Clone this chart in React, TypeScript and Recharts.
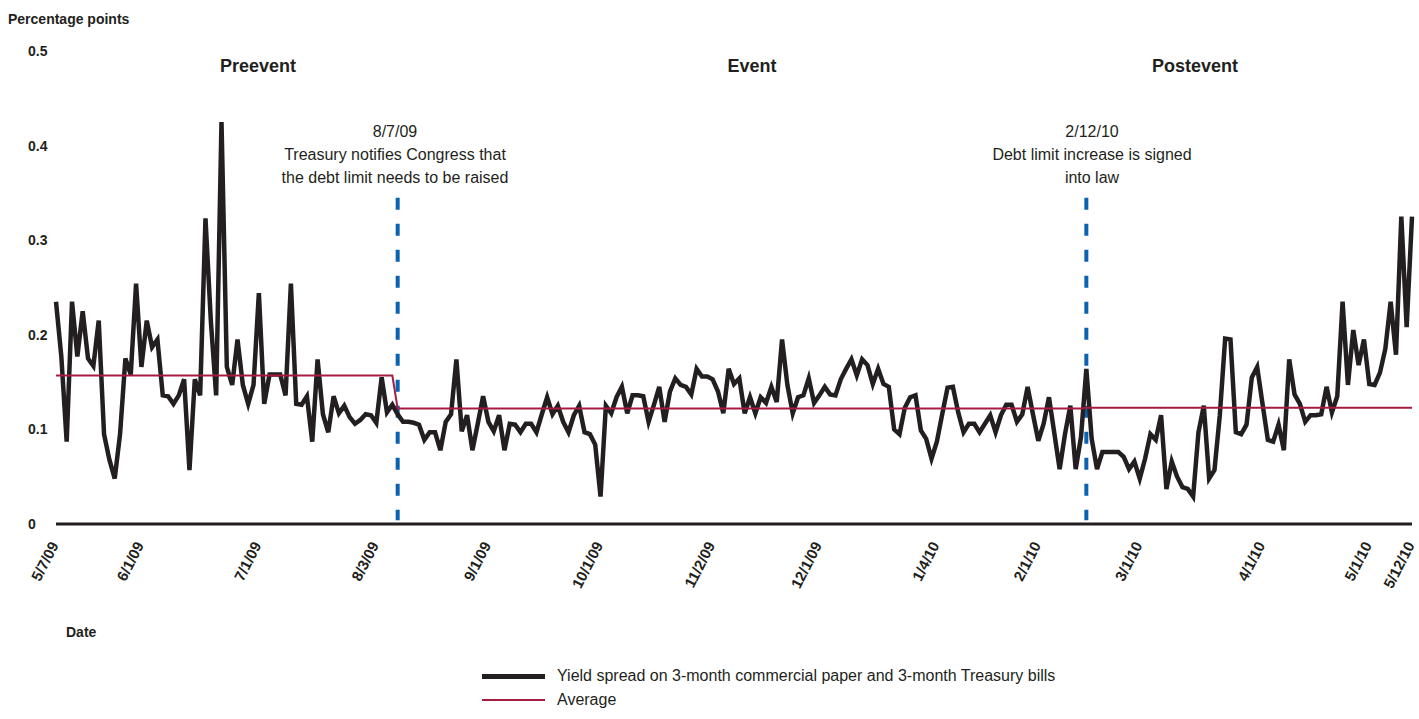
import React from "react";
import { ComposedChart, Line, XAxis, YAxis, ReferenceLine } from "recharts";

// Yield spread, percentage points, one value per business day from 5/7/09 to 5/12/10
const spread = [
  0.235, 0.177, 0.087, 0.235, 0.177, 0.225, 0.175, 0.167, 0.215, 0.095,
  0.068, 0.048, 0.095, 0.175, 0.158, 0.254, 0.166, 0.215, 0.187, 0.195,
  0.136, 0.135, 0.127, 0.136, 0.153, 0.057, 0.153, 0.136, 0.323, 0.215,
  0.136, 0.425, 0.166, 0.147, 0.195, 0.147, 0.127, 0.147, 0.244, 0.127,
  0.158, 0.158, 0.158, 0.136, 0.254, 0.127, 0.126, 0.135, 0.087, 0.174,
  0.116, 0.097, 0.135, 0.117, 0.125, 0.113, 0.106, 0.110, 0.116, 0.115,
  0.107, 0.155, 0.118, 0.126, 0.116, 0.108, 0.108, 0.107, 0.105, 0.089,
  0.097, 0.097, 0.078, 0.108, 0.116, 0.174, 0.098, 0.115, 0.078, 0.106,
  0.135, 0.108, 0.098, 0.115, 0.078, 0.106, 0.105, 0.097, 0.106, 0.106,
  0.097, 0.116, 0.134, 0.116, 0.125, 0.108, 0.097, 0.115, 0.125, 0.097,
  0.095, 0.084, 0.029, 0.125, 0.117, 0.134, 0.145, 0.117, 0.136, 0.136,
  0.135, 0.108, 0.126, 0.145, 0.108, 0.140, 0.154, 0.147, 0.145, 0.137,
  0.164, 0.156, 0.156, 0.153, 0.140, 0.117, 0.164, 0.148, 0.154, 0.117,
  0.134, 0.117, 0.134, 0.128, 0.145, 0.129, 0.195, 0.147, 0.117, 0.134,
  0.136, 0.154, 0.128, 0.136, 0.145, 0.137, 0.136, 0.153, 0.164, 0.174,
  0.157, 0.174, 0.168, 0.148, 0.164, 0.148, 0.145, 0.100, 0.095, 0.123,
  0.134, 0.136, 0.099, 0.090, 0.069, 0.087, 0.116, 0.144, 0.145, 0.118,
  0.097, 0.106, 0.106, 0.097, 0.106, 0.115, 0.097, 0.115, 0.126, 0.126,
  0.108, 0.116, 0.145, 0.116, 0.088, 0.106, 0.134, 0.096, 0.058, 0.095,
  0.125, 0.058, 0.092, 0.164, 0.090, 0.058, 0.076, 0.076, 0.076, 0.076,
  0.071, 0.058, 0.066, 0.048, 0.069, 0.095, 0.089, 0.115, 0.037, 0.066,
  0.050, 0.039, 0.037, 0.029, 0.097, 0.125, 0.048, 0.057, 0.115, 0.196,
  0.195, 0.097, 0.095, 0.105, 0.155, 0.166, 0.127, 0.089, 0.087, 0.105,
  0.078, 0.174, 0.137, 0.127, 0.108, 0.115, 0.115, 0.116, 0.145, 0.118,
  0.135, 0.235, 0.147, 0.205, 0.168, 0.195, 0.148, 0.147, 0.160, 0.185,
  0.235, 0.179, 0.325, 0.208, 0.325,
];

const firstDate = "5/7/09";
const holidays = [
  "5/25/09", "7/3/09", "9/7/09", "10/12/09", "11/26/09",
  "12/25/09", "1/1/10", "1/18/10", "2/15/10", "4/2/10",
];

const tickLabels = [
  "5/7/09", "6/1/09", "7/1/09", "8/3/09", "9/1/09", "10/1/09", "11/2/09",
  "12/1/09", "1/4/10", "2/1/10", "3/1/10", "4/1/10", "5/1/10", "5/12/10",
];

const yTicks = [0, 0.1, 0.2, 0.3, 0.4, 0.5];

// period start dates and their average spread
const periodStarts = ["5/7/09", "8/7/09", "2/12/10"];
const periodNames = ["Preevent", "Event", "Postevent"];
const periodAverages = [0.157, 0.122, 0.123];

const eventDates = ["8/7/09", "2/12/10"];
const eventNotes = [
  ["8/7/09", "Treasury notifies Congress that", "the debt limit needs to be raised"],
  ["2/12/10", "Debt limit increase is signed", "into law"],
];

const FONT = "'Liberation Sans', Arial, Helvetica, sans-serif";
const INK = "#231f20";
const RED = "#a51c40";
const BLUE = "#0b62b1";

const DAY = 86400000;
const toTime = (s: string) => {
  const [m, d, y] = s.split("/").map(Number);
  return Date.UTC(2000 + y, m - 1, d);
};
const toLabel = (t: number) => {
  const d = new Date(t);
  return `${d.getUTCMonth() + 1}/${d.getUTCDate()}/${String(d.getUTCFullYear()).slice(2)}`;
};

// business days, skipping weekends and holidays
const days: { t: number; label: string }[] = [];
{
  const off = new Set(holidays);
  let t = toTime(firstDate);
  while (days.length < spread.length) {
    const wd = new Date(t).getUTCDay();
    const label = toLabel(t);
    if (wd !== 0 && wd !== 6 && !off.has(label)) days.push({ t, label });
    t += DAY;
  }
}

const indexOf = (s: string) => {
  const t = toTime(s);
  let idx = 0;
  days.forEach((d, i) => {
    if (d.t <= t) idx = i;
  });
  return idx;
};

const periodIdx = periodStarts.map(indexOf);
const data = days.map((d, i) => {
  let p = 0;
  periodIdx.forEach((s, k) => {
    if (i >= s) p = k;
  });
  return { idx: i, date: d.label, spread: spread[i], avg: periodAverages[p] };
});

const tickIdx = tickLabels.map(indexOf);
const tickName: Record<number, string> = {};
tickIdx.forEach((v, i) => (tickName[v] = tickLabels[i]));

const DateTick = (props: any) => {
  const { x, y, payload } = props;
  const ax = x + 3;
  const ay = y + 13;
  return (
    <text
      x={ax}
      y={ay}
      transform={`rotate(-63 ${ax} ${ay})`}
      textAnchor="end"
      fontFamily={FONT}
      fontWeight="bold"
      fontSize={15}
      fill={INK}
    >
      {tickName[payload.value]}
    </text>
  );
};

const ValueTick = (props: any) => {
  const { y, payload } = props;
  return (
    <text x={28} y={y + 5} textAnchor="start" fontFamily={FONT} fontWeight="bold" fontSize={14} fill={INK}>
      {String(payload.value)}
    </text>
  );
};

const periodLabelX = [258, 752, 1195];
const noteX = [395, 1092];

export default function App() {
  return (
    <div style={{ position: "absolute", left: 0, top: 0, width: 1419, height: 719, background: "#fff", fontFamily: FONT, color: INK }}>
      <ComposedChart
        width={1419}
        height={719}
        data={data}
        margin={{ top: 51, right: 7, left: 0, bottom: 115 }}
      >
        <XAxis
          dataKey="idx"
          type="number"
          domain={[0, spread.length - 1]}
          ticks={tickIdx}
          interval={0}
          tick={<DateTick />}
          tickLine={false}
          axisLine={{ stroke: INK, strokeWidth: 3 }}
          height={80}
        />
        <YAxis
          domain={[0, 0.5]}
          ticks={yTicks}
          interval={0}
          tick={<ValueTick />}
          tickLine={false}
          axisLine={false}
          width={56}
        />
        {eventDates.map((d) => (
          <ReferenceLine
            key={d}
            segment={[
              { x: indexOf(d), y: 0.345 },
              { x: indexOf(d), y: 0.004 },
            ]}
            stroke={BLUE}
            strokeWidth={4}
            strokeDasharray="12 14"
          />
        ))}
        <Line
          type="linear"
          dataKey="spread"
          stroke={INK}
          strokeWidth={4.5}
          dot={false}
          isAnimationActive={false}
        />
        <Line
          type="linear"
          dataKey="avg"
          stroke={RED}
          strokeWidth={2}
          dot={false}
          isAnimationActive={false}
        />
      </ComposedChart>

      <div style={{ position: "absolute", left: 8, top: 11, fontSize: 14, fontWeight: "bold" }}>Percentage points</div>

      {periodNames.map((n, i) => (
        <div
          key={n}
          style={{ position: "absolute", left: periodLabelX[i] - 100, width: 200, top: 56, textAlign: "center", fontSize: 18, fontWeight: "bold" }}
        >
          {n}
        </div>
      ))}

      {eventNotes.map((lines, i) => (
        <div
          key={i}
          style={{ position: "absolute", left: noteX[i] - 160, width: 320, top: 120, textAlign: "center", fontSize: 16, lineHeight: "23px" }}
        >
          {lines.map((l) => (
            <div key={l}>{l}</div>
          ))}
        </div>
      ))}

      <div style={{ position: "absolute", left: 66, top: 624, fontSize: 14, fontWeight: "bold" }}>Date</div>

      <div style={{ position: "absolute", left: 482, top: 667, display: "flex", alignItems: "center" }}>
        <div style={{ width: 63, height: 5, background: INK, marginRight: 12 }} />
        <span style={{ fontSize: 16 }}>Yield spread on 3-month commercial paper and 3-month Treasury bills</span>
      </div>
      <div style={{ position: "absolute", left: 482, top: 691, display: "flex", alignItems: "center" }}>
        <div style={{ width: 63, height: 2, background: RED, marginRight: 12 }} />
        <span style={{ fontSize: 16 }}>Average</span>
      </div>
    </div>
  );
}
